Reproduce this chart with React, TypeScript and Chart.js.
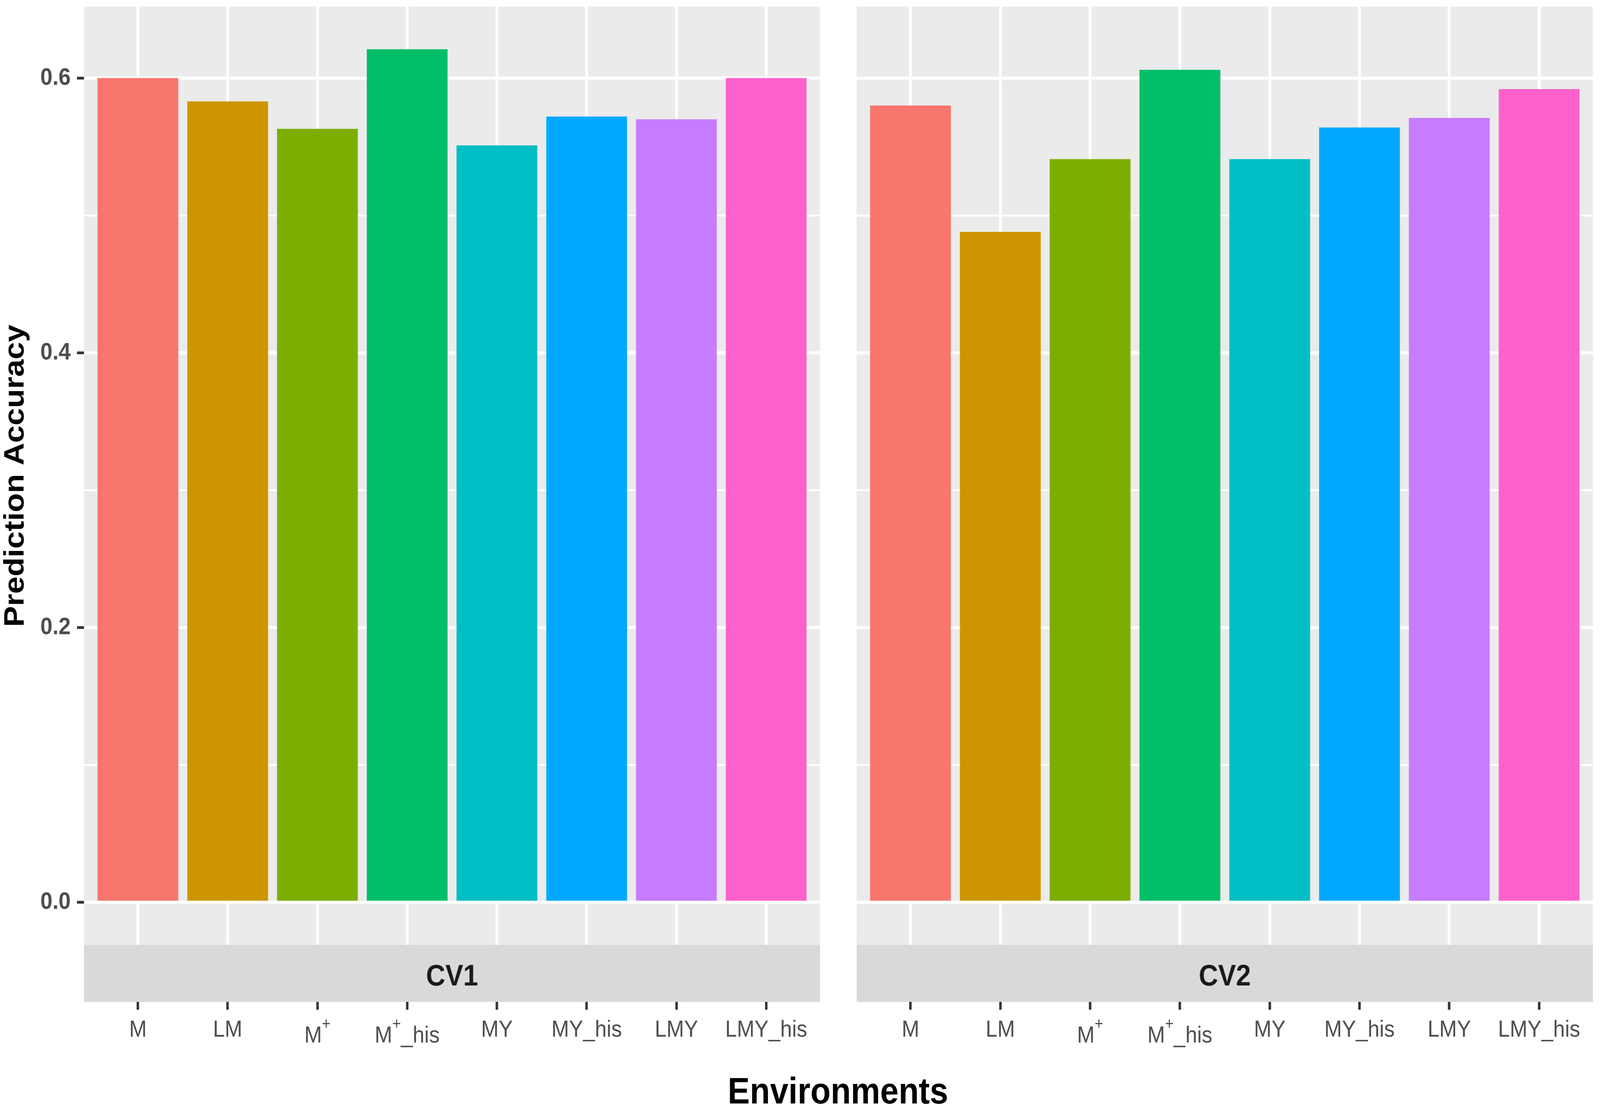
import { useEffect, useRef, useState } from 'react';
import { Chart, registerables } from 'chart.js';

Chart.register(...registerables);

// Data
const environments = ['M', 'LM', 'M^+', 'M^+_his', 'MY', 'MY_his', 'LMY', 'LMY_his'];
const cv1Accuracy = [0.600, 0.583, 0.563, 0.621, 0.551, 0.572, 0.570, 0.600];
const cv2Accuracy = [0.580, 0.488, 0.541, 0.606, 0.541, 0.564, 0.571, 0.592];
const yTicks = [0, 0.1, 0.2, 0.3, 0.4, 0.5, 0.6];
const yLabelTicks = [0, 0.2, 0.4, 0.6];
const barColors = ['#F8766D', '#CD9600', '#7CAE00', '#00BE67', '#00BFC4', '#00A9FF', '#C77CFF', '#FF61CC'];

const FONT = '"Liberation Sans", Arial, Helvetica, sans-serif';
const Y_MIN = -0.031;
const Y_MAX = 0.652;
const PAGE_W = 4550;
const PAGE_H = 2833;
const isMajor = (v: number) => yLabelTicks.some((t) => Math.abs(t - v) < 1e-9);

function drawEnvLabel(ctx: CanvasRenderingContext2D, label: string, x: number, bottom: number) {
  const tickFont = `60px ${FONT}`;
  const supFont = `42px ${FONT}`;
  ctx.fillStyle = '#4D4D4D';
  ctx.textBaseline = 'alphabetic';
  if (!label.includes('^+')) {
    ctx.font = tickFont;
    ctx.textAlign = 'center';
    ctx.fillText(label, x, bottom + 235);
    return;
  }
  const [main, rest] = label.split('^+');
  ctx.font = tickFont;
  const w1 = ctx.measureText(main).width;
  const w3 = ctx.measureText(rest).width;
  ctx.font = supFont;
  const w2 = ctx.measureText('+').width;
  const start = x - (w1 + w2 + w3) / 2;
  ctx.textAlign = 'left';
  ctx.font = tickFont;
  ctx.fillText(main, start, bottom + 250);
  if (rest) ctx.fillText(rest, start + w1 + w2, bottom + 250);
  ctx.font = supFont;
  ctx.fillText('+', start + w1, bottom + 216);
}

const panelPlugin = {
  id: 'ggPanel',
  beforeDraw(chart: any) {
    const { ctx, chartArea: a } = chart;
    ctx.save();
    ctx.fillStyle = '#EBEBEB';
    ctx.fillRect(a.left, a.top, a.right - a.left, a.bottom - a.top);
    ctx.restore();
  },
  afterDraw(chart: any, _args: any, opts: any) {
    const { ctx, chartArea: a } = chart;
    ctx.save();
    // facet strip under the panel (covers the upper part of the long x tick marks)
    ctx.fillStyle = '#D9D9D9';
    ctx.fillRect(a.left, a.bottom, a.right - a.left, 146);
    ctx.fillStyle = '#1A1A1A';
    ctx.font = `bold 76px ${FONT}`;
    ctx.textAlign = 'center';
    ctx.textBaseline = 'alphabetic';
    ctx.fillText(opts.strip, (a.left + a.right) / 2, a.bottom + 104);
    // x tick labels, placed with the x scale
    const xs = chart.scales.x;
    environments.forEach((lab, i) => drawEnvLabel(ctx, lab, xs.getPixelForValue(i), a.bottom));
    ctx.restore();
  },
};

function Panel({ values, strip, showY }: { values: number[]; strip: string; showY: boolean }) {
  const chartRef = useRef<HTMLCanvasElement>(null);
  const chartInstance = useRef<Chart | null>(null);

  useEffect(() => {
    if (!chartRef.current) return;
    const ctx = chartRef.current.getContext('2d');
    if (!ctx) return;
    if (chartInstance.current) chartInstance.current.destroy();

    chartInstance.current = new Chart(ctx, {
      type: 'bar',
      data: {
        datasets: [
          {
            data: values.map((v, i) => ({ x: i, y: v })),
            backgroundColor: barColors,
            borderWidth: 0,
            barPercentage: 0.9,
            categoryPercentage: 1,
          },
        ],
      },
      plugins: [panelPlugin],
      options: {
        responsive: false,
        animation: false,
        devicePixelRatio: 1,
        layout: { padding: { top: 17, right: showY ? 52 : 20, left: 0, bottom: 0 } },
        plugins: {
          legend: { display: false },
          tooltip: { enabled: false },
          ggPanel: { strip },
        } as any,
        scales: {
          x: {
            type: 'linear',
            min: -0.6,
            max: environments.length - 1 + 0.6,
            offset: false,
            afterBuildTicks: (s: any) => {
              s.ticks = environments.map((_, i) => ({ value: i }));
            },
            afterFit: (s: any) => {
              s.height = 415;
              s.paddingLeft = 0;
              s.paddingRight = 0;
            },
            grid: { offset: false, color: '#FFFFFF', lineWidth: 8, tickColor: '#333333', tickLength: 166, tickWidth: 7 },
            border: { display: false },
            ticks: { display: false },
          },
          y: {
            min: Y_MIN,
            max: Y_MAX,
            afterBuildTicks: (s: any) => {
              s.ticks = yTicks.map((v) => ({ value: v }));
            },
            afterFit: (s: any) => {
              s.width = showY ? 239 : 52;
              s.paddingTop = 0;
              s.paddingBottom = 0;
            },
            grid: {
              color: '#FFFFFF',
              lineWidth: (c: any) => (isMajor(c.tick.value) ? 8 : 5),
              drawTicks: showY,
              tickColor: (c: any) => (isMajor(c.tick.value) ? '#333333' : 'rgba(0,0,0,0)'),
              tickLength: 20,
              tickWidth: 7,
            },
            border: { display: false },
            ticks: {
              display: showY,
              padding: 18,
              color: '#4D4D4D',
              font: { family: FONT, size: 62, weight: 'bold' },
              callback: (v: any) => (isMajor(Number(v)) ? Number(v).toFixed(1) : ''),
            },
            title: {
              display: showY,
              text: 'Prediction Accuracy',
              color: '#000000',
              font: { family: FONT, size: 80, weight: 'bold', lineHeight: 1 },
              padding: { top: 5, bottom: 0 },
            },
          },
        },
      },
    });

    return () => {
      if (chartInstance.current) {
        chartInstance.current.destroy();
        chartInstance.current = null;
      }
    };
  }, [values, strip, showY]);

  const width = showY ? 2384 : 2166;
  return <canvas ref={chartRef} width={width} height={PAGE_H} style={{ width, height: PAGE_H, display: 'block' }} />;
}

export default function App() {
  // the visible viewport can be narrower than the figure; squeeze the figure to fit it
  const [sx, setSx] = useState(() => Math.min(1, window.innerWidth / PAGE_W));
  useEffect(() => {
    document.body.style.margin = '0';
    document.body.style.overflow = 'hidden';
    setSx(Math.min(1, window.innerWidth / PAGE_W));
  }, []);

  return (
    <div style={{ width: PAGE_W * sx, height: PAGE_H, overflow: 'hidden', background: '#FFFFFF' }}>
      <div
        style={{
          position: 'relative',
          width: PAGE_W,
          height: PAGE_H,
          overflow: 'hidden',
          transform: `scale(${sx}, 1)`,
          transformOrigin: '0 0',
        }}
      >
        <div style={{ position: 'absolute', left: 0, top: 0 }}>
          <Panel values={cv1Accuracy} strip="CV1" showY={true} />
        </div>
        <div style={{ position: 'absolute', left: 2384, top: 0 }}>
          <Panel values={cv2Accuracy} strip="CV2" showY={false} />
        </div>
        <div
          style={{
            position: 'absolute',
            left: 2383 - 1000,
            width: 2000,
            top: 2745,
            textAlign: 'center',
            fontFamily: FONT,
            fontWeight: 'bold',
            fontSize: 94,
            lineHeight: 1,
            color: '#000000',
          }}
        >
          Environments
        </div>
      </div>
    </div>
  );
}
